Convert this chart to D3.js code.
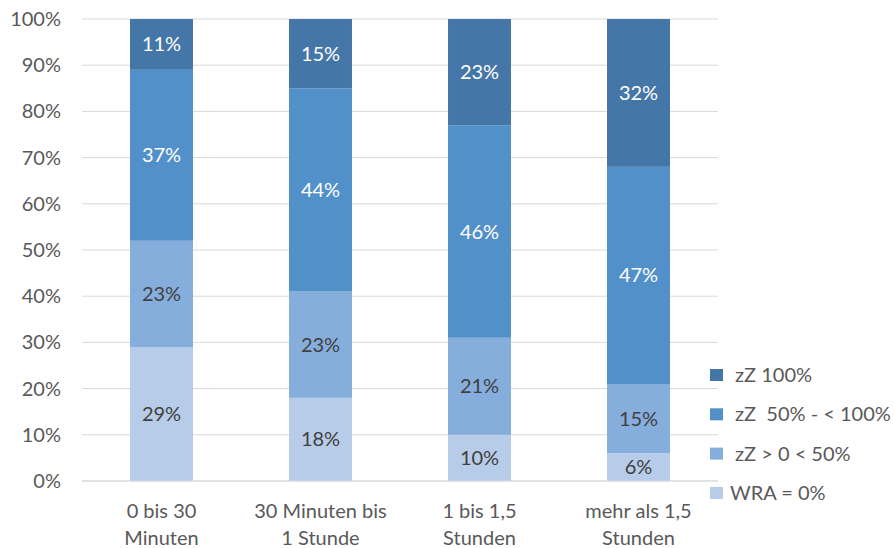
<!DOCTYPE html>
<html>
<head>
<meta charset="utf-8">
<script src="https://cdn.jsdelivr.net/npm/d3@7"></script>
<style>
  html, body { margin: 0; padding: 0; background: #fff; }
  svg text { font-family: Lato, "Open Sans", sans-serif; }
</style>
</head>
<body>
<svg id="chart" width="894" height="548"></svg>
<script>
// Categories (two-line axis labels)
const categories = ["0 bis 30|Minuten", "30 Minuten bis|1 Stunde", "1 bis 1,5|Stunden", "mehr als 1,5|Stunden"];
// Series, bottom to top
const seriesNames = ["WRA = 0%", "zZ > 0 < 50%", "zZ  50% - < 100%", "zZ 100%"];
const wra0     = [29, 18, 10, 6];
const zzUnter50 = [23, 23, 21, 15];
const zz50bis100 = [37, 44, 46, 47];
const zz100    = [11, 15, 23, 32];
const yTicks = [0, 10, 20, 30, 40, 50, 60, 70, 80, 90, 100];

const seriesValues = [wra0, zzUnter50, zz50bis100, zz100];
const colors = ["#B7CCE8", "#86AEDC", "#5290C9", "#4576A8"];
const labelColors = ["#404040", "#404040", "#ffffff", "#ffffff"];
const fontSize = 20;

const svg = d3.select("#chart");
const plotLeft = 82, plotRight = 718, plotTop = 19, plotBottom = 481;

const x = d3.scaleBand().domain(d3.range(categories.length)).range([plotLeft, plotRight]).paddingInner(0.604).paddingOuter(0.302);
const y = d3.scaleLinear().domain([0, 100]).range([plotBottom, plotTop]);

// Gridlines
svg.append("g").selectAll("line").data(yTicks).join("line")
  .attr("x1", plotLeft).attr("x2", plotRight)
  .attr("y1", d => y(d)).attr("y2", d => y(d))
  .attr("stroke", "#D9D9D9").attr("stroke-width", 1);

// Y axis labels
const yAxis = d3.axisLeft(y).tickValues(yTicks).tickFormat(d => d + "%").tickSize(0).tickPadding(0);
const yg = svg.append("g").attr("transform", `translate(${plotLeft - 21},0)`).call(yAxis);
yg.select(".domain").remove();
yg.selectAll("text").attr("font-size", fontSize).attr("fill", "#595959").attr("font-family", "Lato, sans-serif");

// Stack data
const rows = categories.map((c, i) => {
  const r = { i };
  seriesNames.forEach((s, k) => r[s] = seriesValues[k][i]);
  return r;
});
const stacked = d3.stack().keys(seriesNames)(rows);

const layers = svg.append("g").selectAll("g").data(stacked).join("g")
  .attr("fill", (d, k) => colors[k]);
layers.selectAll("rect").data(d => d).join("rect")
  .attr("x", d => x(d.data.i))
  .attr("width", x.bandwidth())
  .attr("y", d => y(d[1]))
  .attr("height", d => y(d[0]) - y(d[1]));

// Segment value labels
const lbl = svg.append("g").selectAll("g").data(stacked).join("g")
  .attr("fill", (d, k) => labelColors[k]);
lbl.selectAll("text").data(d => d).join("text")
  .attr("x", d => x(d.data.i) + x.bandwidth() / 2)
  .attr("y", d => (y(d[0]) + y(d[1])) / 2)
  .attr("dy", "0.35em")
  .attr("text-anchor", "middle")
  .attr("font-size", fontSize)
  .text(d => Math.round(d[1] - d[0]) + "%");

// Baseline
svg.append("line").attr("x1", plotLeft).attr("x2", plotRight)
  .attr("y1", y(0)).attr("y2", y(0)).attr("stroke", "#D9D9D9");

// X axis labels
const xg = svg.append("g").selectAll("text").data(categories).join("text")
  .attr("x", (d, i) => x(i) + x.bandwidth() / 2)
  .attr("y", 518)
  .attr("text-anchor", "middle")
  .attr("font-size", fontSize)
  .attr("fill", "#595959");
xg.each(function(d) {
  const parts = d.split("|");
  const cx = d3.select(this).attr("x");
  d3.select(this).selectAll("tspan").data(parts).join("tspan")
    .attr("x", cx)
    .attr("dy", (p, j) => j === 0 ? 0 : 27)
    .text(p => p);
});

// Legend (top series first)
const legendItems = seriesNames.map((s, k) => ({ name: s, color: colors[k], k })).reverse();
const lg = svg.append("g").selectAll("g").data(legendItems).join("g")
  .attr("transform", (d, j) => `translate(710,${375 + j * 39.3})`);
lg.append("rect").attr("x", 0).attr("y", -6).attr("width", 13).attr("height", 12)
  .attr("fill", d => d.color);
lg.append("text").attr("x", d => d.k === 0 ? 20 : 25).attr("dy", "0.35em")
  .attr("font-size", fontSize).attr("fill", "#595959")
  .style("white-space", "pre")
  .text(d => d.name);
</script>
</body>
</html>
